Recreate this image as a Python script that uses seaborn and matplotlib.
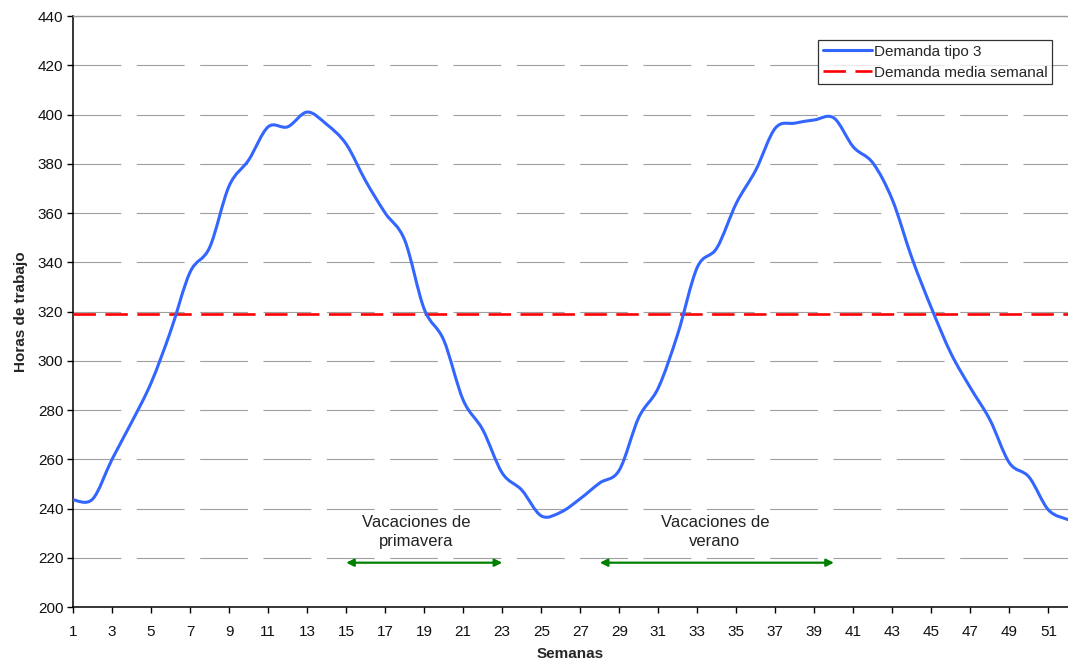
import matplotlib
matplotlib.use("Agg")
import matplotlib.pyplot as plt
from matplotlib.path import Path
from matplotlib.patches import PathPatch
from matplotlib.lines import Line2D
import seaborn as sns
import pandas as pd

# Weekly workload (hours) for demand type 3
semanas = list(range(1, 53))
demanda_tipo3 = [
    243.5, 243.8, 260, 275, 291, 312, 336, 346, 371, 381.5,
    395, 395, 401, 396, 388, 373, 360, 349, 321, 308.4,
    284, 272, 254.4, 247.5, 237, 238.5, 244, 250.4, 255.6, 277,
    289, 311, 338, 345.8, 364, 377.5, 394.5, 396.5, 397.8, 398.6,
    386.8, 380.3, 365.3, 341.7, 321.4, 303, 289, 276, 258.5, 252.8,
    239.4, 235.5,
]
demanda_media = 319

# Holiday periods: (first week, last week, label)
vacaciones_inicio = [15, 28]
vacaciones_fin = [23, 40]
vacaciones_texto = ["Vacaciones de\nprimavera", "Vacaciones de\nverano"]
vacaciones_texto_x = [18.6, 33.9]

AZUL = "#3366FF"
ROJO = "#FF0000"
VERDE = "#008000"


def curva_suave(xs, ys):
    """Cubic Bezier path through every point (smoothed-line rendering)."""
    verts = [(xs[0], ys[0])]
    codes = [Path.MOVETO]
    n = len(xs)
    for i in range(n - 1):
        x0, y0 = (xs[i - 1], ys[i - 1]) if i > 0 else (xs[i], ys[i])
        x1, y1 = xs[i], ys[i]
        x2, y2 = xs[i + 1], ys[i + 1]
        x3, y3 = (xs[i + 2], ys[i + 2]) if i + 2 < n else (x2, y2)
        c1 = (x1 + (x2 - x0) / 6.0, y1 + (y2 - y0) / 6.0)
        c2 = (x2 - (x3 - x1) / 6.0, y2 - (y3 - y1) / 6.0)
        verts += [c1, c2, (x2, y2)]
        codes += [Path.CURVE4] * 3
    return Path(verts, codes)


sns.set_theme(style="white")
plt.rcParams["font.family"] = ["Liberation Sans", "DejaVu Sans"]

fig = plt.figure(figsize=(10.68, 6.65), dpi=100)
ax = fig.add_axes([0.0684, 0.0872, 0.9316, 0.8887])

df = pd.DataFrame({"Semana": semanas, "Horas": demanda_tipo3})
sns.lineplot(data=df, x="Semana", y="Horas", ax=ax, color=AZUL,
             linewidth=2.2, zorder=4)
serie = ax.get_lines()[0]
serie.set_visible(False)
ax.add_patch(PathPatch(curva_suave(serie.get_xdata(), serie.get_ydata()),
                       facecolor="none", edgecolor=AZUL, linewidth=2.2,
                       capstyle="round", joinstyle="round", zorder=4))

ax.axhline(demanda_media, color=ROJO, linewidth=1.9,
           linestyle=(0, (8.5, 3.6)), zorder=3)

# Holiday arrows and labels
for x0, x1, txt, tx in zip(vacaciones_inicio, vacaciones_fin,
                           vacaciones_texto, vacaciones_texto_x):
    ax.annotate("", xy=(x1, 218), xytext=(x0, 218),
                arrowprops=dict(arrowstyle="<|-|>", color=VERDE,
                                lw=1.6, mutation_scale=11,
                                shrinkA=0, shrinkB=0))
    ax.text(tx, 230.5, txt, ha="center", va="center", fontsize=12,
            color="#222222", linespacing=1.3)

ax.set_xlim(1, 52)
ax.set_ylim(200, 440)
ax.set_xticks(list(range(1, 52, 2)))
ax.set_yticks(list(range(200, 441, 20)))
ax.tick_params(axis="both", which="major", labelsize=11, length=4,
               width=1, color="#000000", direction="out",
               bottom=True, left=True, labelcolor="#111111")
ax.tick_params(axis="x", pad=9)
ax.tick_params(axis="y", pad=3)

ax.yaxis.grid(True, color="#a0a0a0", linewidth=0.8,
              linestyle=(0, (43, 14)))
ax.xaxis.grid(False)

for side in ["left", "bottom"]:
    ax.spines[side].set_color("#000000")
    ax.spines[side].set_linewidth(1.1)
ax.spines["top"].set_color("#999999")
ax.spines["top"].set_linewidth(1.0)
ax.spines["right"].set_visible(False)

ax.set_xlabel("Semanas", fontsize=11, fontweight="bold", labelpad=6)
ax.set_ylabel("Horas de trabajo", fontsize=11, fontweight="bold", labelpad=7)

handles = [Line2D([], [], color=AZUL, linewidth=2.2),
           Line2D([], [], color=ROJO, linewidth=1.9, linestyle=(0, (8.5, 3.6)))]
leg = ax.legend(handles, ["Demanda tipo 3", "Demanda media semanal"],
                loc="upper right", bbox_to_anchor=(0.984, 0.959),
                borderaxespad=0, fontsize=11, frameon=True, fancybox=False,
                edgecolor="#000000", handlelength=3.2, handletextpad=0.15,
                borderpad=0.3, labelspacing=0.45)
leg.get_frame().set_linewidth(0.9)

fig.savefig("out.png", dpi=100)
